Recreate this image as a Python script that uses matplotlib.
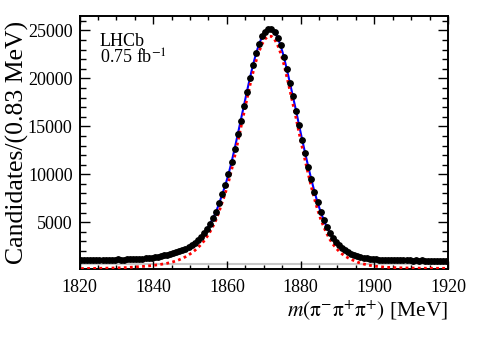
import numpy as np
import matplotlib
matplotlib.use("Agg")
import matplotlib.pyplot as plt
from matplotlib.ticker import MultipleLocator

plt.rcParams['font.family'] = ['Liberation Serif', 'DejaVu Serif']
plt.rcParams['mathtext.fontset'] = 'stix'

# 120 bins of 0.83 MeV between 1820 and 1920 MeV
bin_lo = 1820.0
bin_hi = 1920.0
n_bins = 120

# candidates per bin (black points)
data = [1080, 1050, 1090, 1060, 1085, 1070, 1100, 1075, 1095, 1080,
        1110, 1090, 1120, 1105, 1110, 1135, 1120, 1150, 1140, 1170,
        1200, 1245, 1265, 1315, 1345, 1425, 1460, 1545, 1600, 1690,
        1760, 1870, 1960, 2110, 2230, 2420, 2600, 2870, 3120, 3480,
        3840, 4330, 4820, 5460, 6100, 7030, 7930, 8900, 9980, 11280,
        12620, 14150, 15600, 17130, 18570, 20080, 21380, 22640, 23570, 24400,
        24870, 25180, 25120, 24880, 24220, 23430, 22270, 20980, 19520, 18130,
        16620, 15120, 13590, 12200, 10760, 9470, 8180, 7100, 6080, 5270,
        4500, 3920, 3360, 2970, 2590, 2320, 2070, 1900, 1720, 1610,
        1480, 1410, 1310, 1265, 1195, 1165, 1120, 1105, 1075, 1070,
        1050, 1055, 1035, 1045, 1025, 1040, 1020, 1030, 1015, 1025,
        1010, 1020, 1005, 1015, 1000, 1012, 995, 1008, 990, 1005]

# total fit (blue line), at bin centres
fit = [1065, 1068, 1071, 1074, 1077, 1080, 1084, 1088, 1092, 1096,
       1100, 1105, 1110, 1116, 1122, 1129, 1137, 1146, 1157, 1172,
       1200, 1235, 1270, 1310, 1355, 1410, 1470, 1535, 1605, 1680,
       1765, 1860, 1970, 2095, 2240, 2410, 2610, 2850, 3130, 3460,
       3850, 4310, 4840, 5440, 6120, 7000, 7950, 8880, 10000, 11250,
       12650, 14120, 15620, 17100, 18600, 20050, 21400, 22600, 23600, 24380,
       24900, 25150, 25150, 24850, 24250, 23400, 22300, 20950, 19550, 18100,
       16650, 15100, 13620, 12170, 10780, 9450, 8200, 7080, 6100, 5250,
       4520, 3900, 3380, 2950, 2600, 2310, 2080, 1890, 1730, 1600,
       1490, 1400, 1320, 1255, 1200, 1160, 1125, 1100, 1080, 1065,
       1055, 1048, 1042, 1037, 1033, 1030, 1027, 1024, 1022, 1020,
       1018, 1016, 1014, 1012, 1010, 1008, 1006, 1004, 1002, 1000]

# signal component (red dotted)
signal = [170, 175, 180, 185, 190, 196, 202, 208, 215, 222,
          230, 238, 247, 257, 268, 285, 305, 325, 350, 375,
          395, 420, 450, 485, 525, 570, 615, 665, 725, 795,
          880, 980, 1100, 1240, 1400, 1590, 1800, 2050, 2330, 2660,
          3040, 3490, 4010, 4610, 5290, 6160, 7110, 8060, 9170, 10430,
          11820, 13310, 14820, 16320, 17820, 19270, 20620, 21830, 22830, 23610,
          24130, 24380, 24380, 24080, 23480, 22630, 21530, 20180, 18780, 17330,
          15880, 14330, 12850, 11400, 10010, 8690, 7450, 6340, 5370, 4540,
          3830, 3230, 2730, 2320, 1980, 1700, 1470, 1280, 1120, 990,
          850, 740, 650, 575, 510, 455, 410, 375, 345, 320,
          300, 285, 272, 261, 252, 244, 237, 231, 226, 222,
          218, 215, 212, 210, 208, 206, 204, 202, 201, 200]

# combinatorial background (grey line)
bkg_x = [1820, 1920]
bkg_y = [680, 680]

width = (bin_hi - bin_lo) / n_bins
centres = bin_lo + width * (np.arange(n_bins) + 0.5)

fig = plt.figure(figsize=(4.98, 3.38), dpi=100)
ax = fig.add_axes([0.1597, 0.2033, 0.7399, 0.7494])

ax.plot(bkg_x, bkg_y, color='#c8c8c8', lw=1.5, zorder=1)
ax.plot(centres, fit, color='blue', lw=1.5, zorder=2)
ax.plot(centres, signal, color='red', lw=2.0, ls=(0, (1, 1.2)), zorder=3)
ax.errorbar(centres, data, yerr=np.sqrt(data), fmt='o', color='black',
            ms=3.9, elinewidth=1, capsize=0, zorder=4)

ax.set_xlim(1820, 1920)

ax.xaxis.set_major_locator(MultipleLocator(20))
ax.xaxis.set_minor_locator(MultipleLocator(5))
ax.yaxis.set_major_locator(MultipleLocator(5000))
ax.yaxis.set_minor_locator(MultipleLocator(1000))
ax.tick_params(which='both', direction='in', top=True, right=True,
               labelsize=13, width=1)
ax.tick_params(axis='y', which='major', length=7.5, pad=5)
ax.tick_params(axis='y', which='minor', length=4)
ax.tick_params(axis='x', which='major', length=5.5, pad=7)
ax.tick_params(axis='x', which='minor', length=3)
for s in ax.spines.values():
    s.set_linewidth(1.4)

ax.set_yticks([5000, 10000, 15000, 20000, 25000])
ax.set_ylim(100, 26500)

ax.set_xlabel(r'$m(\mathrm{\pi}^{-}\mathrm{\pi}^{+}\mathrm{\pi}^{+})$ [MeV]',
              fontsize=15.5, ha='right', va='top')
ax.xaxis.set_label_coords(1.0, -0.115)
ax.set_ylabel('Candidates/(0.83 MeV)', fontsize=18.5, va='center')
ax.yaxis.set_label_coords(-0.168, 0.5)

ax.text(0.055, 0.9, 'LHCb', transform=ax.transAxes, fontsize=13, va='center')
ax.text(0.055, 0.835, r'0.75 fb$^{-1}$', transform=ax.transAxes,
        fontsize=13, va='center')

fig.savefig('out.png', dpi=100)
